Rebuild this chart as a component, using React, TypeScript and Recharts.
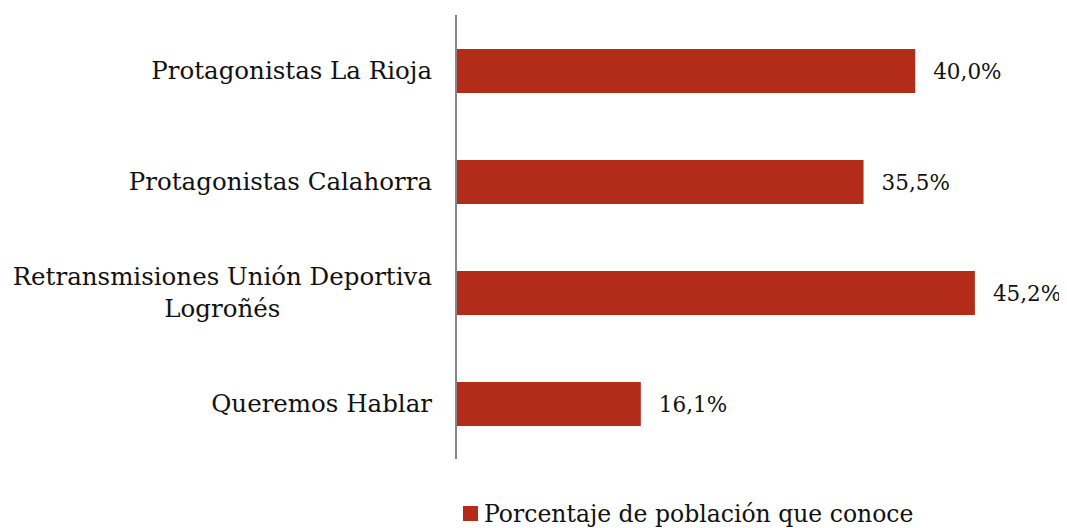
import React from 'react';
import { BarChart, Bar, XAxis, YAxis, LabelList, Legend } from 'recharts';

const categories = [
  'Protagonistas La Rioja',
  'Protagonistas Calahorra',
  'Retransmisiones Unión Deportiva Logroñés',
  'Queremos Hablar',
];
const tickLabels = [
  'Protagonistas La Rioja',
  'Protagonistas Calahorra',
  'Retransmisiones Unión Deportiva\nLogroñés',
  'Queremos Hablar',
];
const values = [40.0, 35.5, 45.2, 16.1];
const seriesName = 'Porcentaje de población que conoce';
const xDomain: [number, number] = [0, 50];

const data = categories.map((c, i) => ({ category: c, tick: tickLabels[i], value: values[i] }));

const FONT = '"DejaVu Serif", serif';
const TICK_FS = 24.5;
const LABEL_FS = 21.5;
const LEGEND_FS = 23.5;
const BAR = '#B22C19';
const TEXT = '#111111';

let ctx: CanvasRenderingContext2D | null = null;
function measure(t: string): number {
  if (!ctx) {
    const c = document.createElement('canvas');
    ctx = c.getContext('2d');
  }
  if (!ctx) return t.length * TICK_FS * 0.55;
  ctx.font = `${TICK_FS}px ${FONT}`;
  return ctx.measureText(t).width;
}

const CategoryTick = (props: any) => {
  const { x, y, payload } = props;
  const idx = categories.indexOf(payload.value);
  const label = idx >= 0 ? tickLabels[idx] : String(payload.value);
  const lines = label.split('\n');
  const maxW = Math.max(...lines.map(measure));
  const cx = x - maxW / 2;
  const lh = 32;
  const startY = y - ((lines.length - 1) * lh) / 2;
  return (
    <text fontFamily={FONT} fontSize={TICK_FS} fill={TEXT} textAnchor="middle">
      {lines.map((l, i) => (
        <tspan key={i} x={cx} y={startY + i * lh} dy="0.36em">
          {l}
        </tspan>
      ))}
    </text>
  );
};

const fmt = (v: any) => `${Number(v).toFixed(1).replace('.', ',')}%`;

const LegendContent = () => (
  <div style={{ display: 'flex', alignItems: 'flex-start', fontFamily: FONT, fontSize: LEGEND_FS, lineHeight: '24px', color: TEXT, whiteSpace: 'nowrap' }}>
    <span style={{ display: 'inline-block', width: 15, height: 15, background: BAR, marginRight: 6, marginTop: 4 }} />
    <span>{seriesName}</span>
  </div>
);

export default function App() {
  return (
    <BarChart
      width={1059}
      height={520}
      data={data}
      layout="vertical"
      margin={{ top: 7, right: 37, bottom: 69, left: 0 }}
      barSize={44}
      style={{ overflow: 'visible' }}
    >
      <XAxis type="number" domain={xDomain} hide />
      <YAxis
        type="category"
        dataKey="category"
        width={448}
        axisLine={{ stroke: '#868686', strokeWidth: 2 }}
        tickLine={false}
        tickSize={0}
        tickMargin={24}
        tick={<CategoryTick />}
        interval={0}
      />
      <Bar dataKey="value" name={seriesName} fill={BAR} isAnimationActive={false}>
        <LabelList
          dataKey="value"
          position="right"
          offset={18}
          formatter={fmt}
          style={{ fontFamily: FONT, fontSize: LABEL_FS, fill: TEXT }}
        />
      </Bar>
      <Legend
        layout="horizontal"
        verticalAlign="middle"
        align="center"
        wrapperStyle={{ top: 494, left: 455, width: 'auto' }}
        content={<LegendContent />}
      />
    </BarChart>
  );
}
